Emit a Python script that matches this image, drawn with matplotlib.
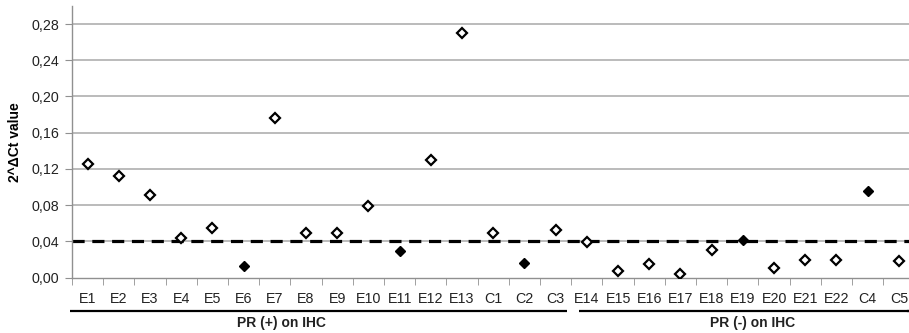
import numpy as np
import matplotlib
matplotlib.use("Agg")
import matplotlib.pyplot as plt
from matplotlib.ticker import FuncFormatter
import matplotlib.transforms as mtransforms

plt.rcParams['font.family'] = ['Liberation Sans', 'DejaVu Sans']

# Data
samples = ["E1", "E2", "E3", "E4", "E5", "E6", "E7", "E8", "E9", "E10", "E11", "E12", "E13",
           "C1", "C2", "C3",
           "E14", "E15", "E16", "E17", "E18", "E19", "E20", "E21", "E22", "C4", "C5"]
values = [0.126, 0.112, 0.091, 0.044, 0.055, 0.013, 0.176, 0.049, 0.049, 0.079, 0.029, 0.130, 0.270,
          0.049, 0.016, 0.053,
          0.039, 0.007, 0.015, 0.004, 0.031, 0.042, 0.011, 0.019, 0.019, 0.096, 0.018]
filled = ["E6", "E11", "C2", "E19", "C4"]
threshold = 0.04
groups = ["PR (+) on IHC", "PR (-) on IHC"]
group_first = ["E1", "E14"]
group_last = ["C3", "C5"]
yticks = [0.00, 0.04, 0.08, 0.12, 0.16, 0.20, 0.24, 0.28]

fig = plt.figure(figsize=(9.09, 3.33), dpi=100)
ax = fig.add_axes([72 / 909, 55.3 / 333, 842.5 / 909, 271.8 / 333])

x = np.arange(len(samples))
vals = np.array(values)
is_filled = np.array([s in filled for s in samples])

grid_c = "#a8a8a8"
for t in yticks[1:]:
    ax.axhline(t, color=grid_c, lw=1.1, zorder=1)

ax.axhline(threshold, color="black", lw=2.3, ls=(0, (3.8, 2.4)), zorder=2)

ax.plot(x[~is_filled], vals[~is_filled], ls="none", marker="D", ms=5.2,
        mfc="white", mec="black", mew=1.6, zorder=3)
ax.plot(x[is_filled], vals[is_filled], ls="none", marker="D", ms=5.4,
        mfc="black", mec="black", mew=1.0, zorder=3)

ax.set_xlim(-0.5, len(samples) - 0.5)
ax.set_ylim(0, 0.30)
ax.set_yticks(yticks)
ax.yaxis.set_major_formatter(FuncFormatter(lambda v, p: f"{v:.2f}".replace(".", ",")))
ax.set_xticks(x)
ax.set_xticklabels(samples)
ax.set_xticks(np.arange(len(samples) + 1) - 0.5, minor=True)
ax.tick_params(axis="x", which="major", length=0, pad=10, labelsize=10.3, labelcolor="#222222")
ax.tick_params(axis="x", which="minor", length=5, color="#909090", direction="out")
ax.tick_params(axis="y", length=5, color="#909090", labelsize=10.3, labelcolor="#222222", pad=4)

for side in ["top", "right"]:
    ax.spines[side].set_visible(False)
for side in ["left", "bottom"]:
    ax.spines[side].set_color("#909090")
    ax.spines[side].set_linewidth(1.0)

ax.set_ylabel("2^\u0394Ct value", fontsize=10, fontweight="bold", labelpad=7)

# group brackets under the tick labels
trans = mtransforms.blended_transform_factory(ax.transData, ax.transAxes)
label_x = [6.2, 21.3]
start_off = [0.55, 0.25]
for name, first, last, lx, so in zip(groups, group_first, group_last, label_x, start_off):
    i0 = samples.index(first)
    i1 = samples.index(last)
    ax.plot([i0 - so, i1 + 0.37], [-0.124, -0.124], color="black", lw=1.6,
            transform=trans, clip_on=False, solid_capstyle="butt")
    ax.text(lx, -0.168, name, transform=trans, ha="center", va="center",
            fontsize=10, fontweight="bold", color="#222222")
# second bracket runs to the figure edge
ax.plot([len(samples) - 0.7, len(samples)], [-0.124, -0.124], color="black", lw=1.6,
        transform=trans, clip_on=False)

fig.savefig("out.png", dpi=100)
